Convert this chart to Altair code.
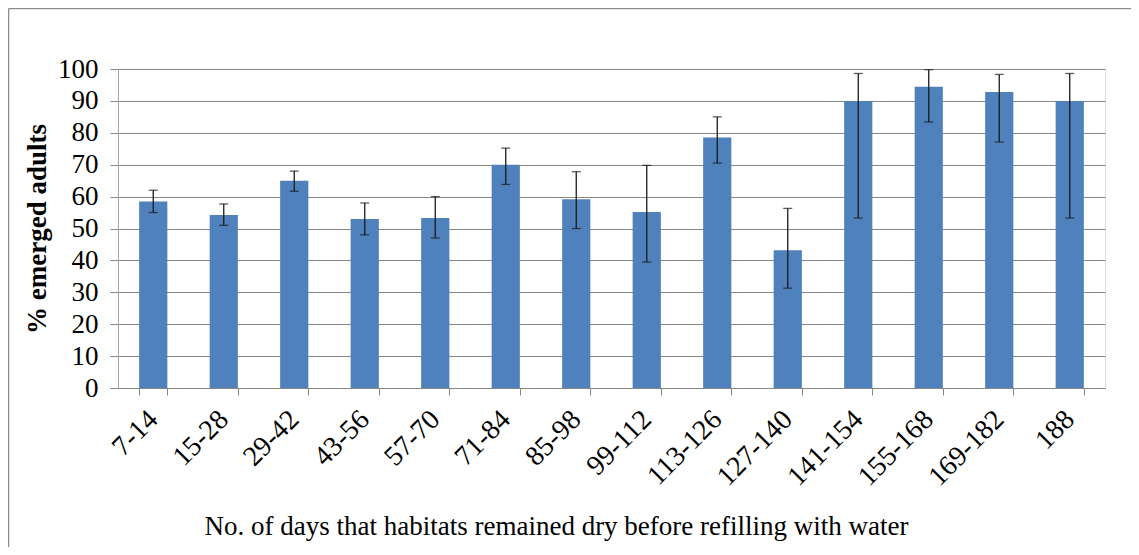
import altair as alt
import pandas as pd

categories = ["7-14", "15-28", "29-42", "43-56", "57-70", "71-84", "85-98",
              "99-112", "113-126", "127-140", "141-154", "155-168", "169-182", "188"]
values = [58.5, 54.2, 65.0, 53.0, 53.3, 70.0, 59.2, 55.2, 78.5, 43.2, 90.0, 94.4, 92.8, 90.0]
err_low = [55.0, 51.0, 61.7, 48.0, 47.0, 63.8, 50.0, 39.5, 70.5, 31.3, 53.3, 83.4, 77.1, 53.3]
err_high = [62.0, 57.7, 68.0, 58.0, 60.0, 75.2, 67.8, 69.8, 85.0, 56.3, 98.6, 99.8, 98.3, 98.6]
y_ticks = [0, 10, 20, 30, 40, 50, 60, 70, 80, 90, 100]

df = pd.DataFrame({"cat": categories, "val": values, "lo": err_low, "hi": err_high})

FONT = "Liberation Serif"
W, H = 987, 319

x_axis = alt.Axis(title="No. of days that habitats remained dry before refilling with water",
                  labelAngle=-45, labelAlign="right", labelBaseline="middle",
                  labelFont=FONT, labelFontSize=28, labelColor="black",
                  labelPadding=20, labelOverlap=False,
                  tickBand="extent", tickSize=7, tickColor="#868686",
                  domainColor="#868686", grid=False,
                  titleFont=FONT, titleFontSize=27, titleFontWeight="normal",
                  titleColor="black", titleX=438, titleY=146,
                  titleBaseline="alphabetic")
x_scale = alt.Scale(paddingInner=0.6, paddingOuter=0.3)

y_axis = alt.Axis(title="% emerged adults", values=y_ticks,
                  labelFont=FONT, labelFontSize=27, labelColor="black",
                  labelPadding=12, tickSize=8, tickColor="#868686",
                  labelOverlap=False, tickCount=11,
                  domainColor="#a6a6a6", gridColor="#868686", gridWidth=1,
                  titleFont=FONT, titleFontSize=27, titleFontWeight="bold",
                  titleColor="black", titleX=-81, titleY=159.5,
                  titleBaseline="middle")
y_scale = alt.Scale(domain=[0, 100])

def X():
    return alt.X("cat:N", sort=categories, scale=x_scale, axis=x_axis)

def Y(field):
    return alt.Y(field, scale=y_scale, axis=y_axis)

base = alt.Chart(df)
bars = base.mark_bar(color="#4F81BD").encode(x=X(), y=Y("val:Q"))
err = base.mark_rule(color="#1a1a1a", strokeWidth=1.3).encode(
    x=X(), y=Y("lo:Q"), y2="hi:Q")
cap_lo = base.mark_tick(color="#1a1a1a", size=9, thickness=1.3, orient="horizontal").encode(
    x=X(), y=Y("lo:Q"))
cap_hi = base.mark_tick(color="#1a1a1a", size=9, thickness=1.3, orient="horizontal").encode(
    x=X(), y=Y("hi:Q"))

frame_df = pd.DataFrame({"k": [0]})
frame_left = alt.Chart(frame_df).mark_rule(color="#8c8c8c", strokeWidth=1.5).encode(
    x=alt.value(-109.5), y=alt.value(-60.5), y2=alt.value(480))
frame_top = alt.Chart(frame_df).mark_rule(color="#8c8c8c", strokeWidth=1.5).encode(
    x=alt.value(-109.5), x2=alt.value(1030), y=alt.value(-60.5))

chart = alt.layer(bars, err, cap_lo, cap_hi, frame_left, frame_top).properties(
    width=W, height=H,
    autosize=alt.AutoSizeParams(type="none"),
    padding={"left": 110, "top": 61, "right": 26, "bottom": 159},
).configure_view(stroke=None).configure(background="white")

chart.save("out.html", embed_options={"renderer": "svg", "actions": False})
